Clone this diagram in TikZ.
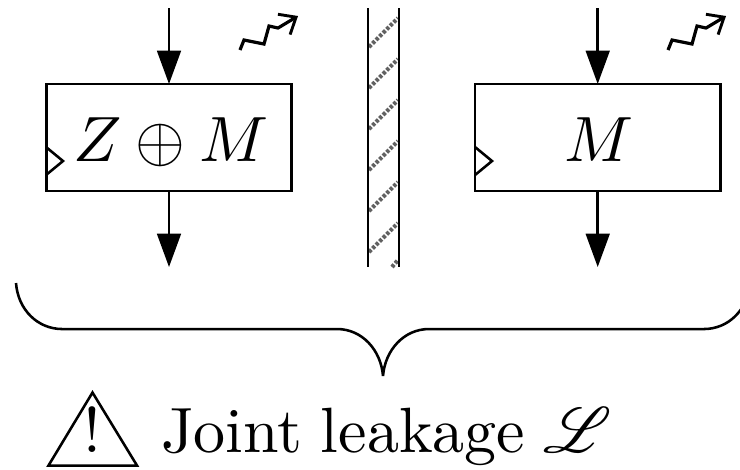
\documentclass[tikz,border=0pt]{standalone}
\usepackage{mathrsfs}
\usetikzlibrary{arrows.meta}
\tikzset{
  base line/.style={line width=0.4pt,black},
  regbox/.style={draw,base line,rectangle,minimum width=38.3pt,minimum height=16.72pt,inner sep=0pt,outer sep=0pt},
  flow/.style={base line,-{Triangle[length=5.2pt,width=3.7pt]}},
  leak/.style={line width=0.5pt,black,line join=miter,-{Straight Barb[length=2.2pt,width=3.7pt,line width=0.45pt]}},
  hatchline/.style={line width=0.65pt,black!62,dash pattern=on 0.5pt off 0.28pt},
  wall/.style={base line},
  lbl/.style={inner sep=0pt,outer sep=0pt,anchor=base},
}
\begin{document}
\begin{tikzpicture}[x=0.15625pt,y=-0.15625pt]
\useasboundingbox (0,0) rectangle (740,469);
\clip (0,0) rectangle (740,469);
% registers
\node[regbox] (zm) at (169,137.5) {};
\node[regbox] (m) at (597.7,137.5) {};
\node[lbl] (zmt) at (171,161) {$Z\oplus M$};
\node[lbl] (mt) at (599,161) {$M$};
% clock marks
\draw[base line] (46,147) -- (63,161) -- (46,175);
\draw[base line] (475,147) -- (492,161) -- (475,175);
% data flow
\coordinate (zmin) at (169,8);
\coordinate (zmout) at (169,267);
\coordinate (min) at (597.7,8);
\coordinate (mout) at (597.7,267);
\draw[flow] (zmin) -- (zm.north);
\draw[flow] (zm.south) -- (zmout);
\draw[flow] (min) -- (m.north);
\draw[flow] (m.south) -- (mout);
% leakage squiggles
\draw[leak] (240,50) -- (244,40) -- (264,44) -- (269,26) -- (278,28) -- (298,16);
\draw[leak] (668,50) -- (672,40) -- (692,44) -- (697,26) -- (706,28) -- (726,16);
% wall
\foreach \yy in {47,88,129,170,211,252}
  \draw[hatchline] (369,\yy) -- (398,\yy-29);
\draw[hatchline] (392,267) -- (398,260);
\draw[wall] (368,8) -- (368,267);
\draw[wall] (399,8) -- (399,267);
% brace
\draw[base line,line join=bevel] (16,283) .. controls (18,310) and (38,329) .. (62,329)
  -- (337,329) .. controls (362,329) and (381,350) .. (383,376)
  .. controls (385,350) and (404,329) .. (429,329)
  -- (704,329) .. controls (728,329) and (748,310) .. (750,283);
% warning triangle and text
\node[lbl] (warn) at (92.3,452) {!};
\draw[base line] (92.5,392.5) -- (137,465.5) -- (48.5,465.5) -- cycle;
\node[inner sep=0pt,outer sep=0pt,anchor=base west] (txt) at (161,452) {Joint\kern-0.45pt{} leakage\kern-0.5pt{} $\mathscr{L}$};
\end{tikzpicture}
\end{document}
